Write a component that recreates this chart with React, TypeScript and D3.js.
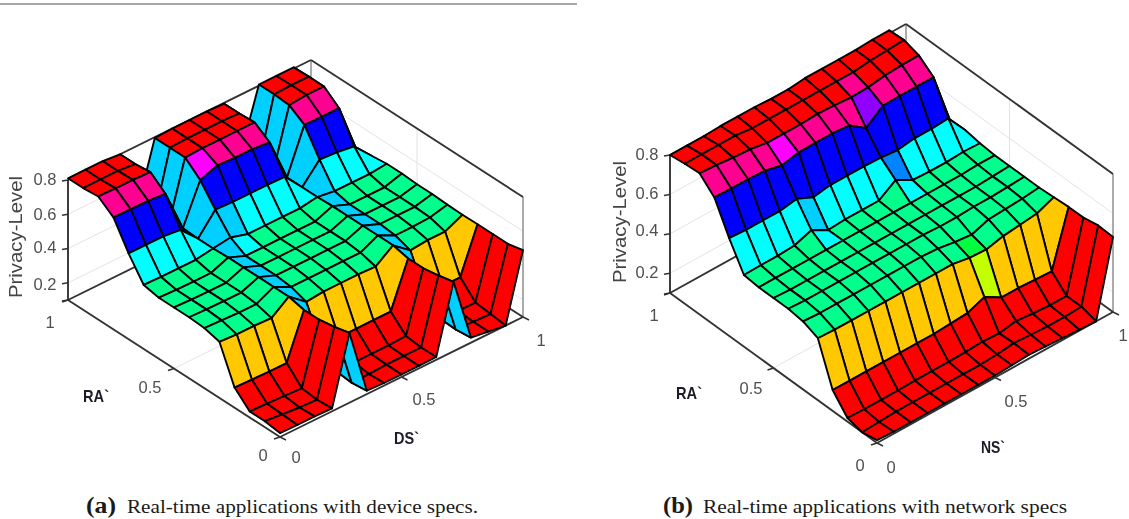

import React from "react";
import * as d3 from "d3";

const STEPS = 14;
const zTicks = [0.2, 0.4, 0.6, 0.8];
const zLabels = ["0.2", "0.4", "0.6", "0.8"];
const ridgeColumnsDevice = [4, 10];
const ridgeColumnsNetwork: number[] = [];

// Privacy-Level: one array per DS` column, running RA` 0 -> 1
const devA0 = [.123,.135,.135,.217,.427,.45,.456,.456,.456,.473,.60,.753,.818,.81,.81];
const devA1 = [.12,.125,.13,.213,.42,.445,.452,.452,.452,.47,.60,.75,.815,.81,.81];
const devA2 = [.12,.115,.125,.21,.42,.44,.45,.45,.45,.47,.60,.75,.815,.81,.81];
const devA3 = [.117,.11,.12,.21,.415,.44,.45,.45,.45,.47,.587,.74,.81,.80,.80];
const devR4 = [.507,.485,.47,.47,.49,.49,.49,.49,.49,.486,.486,.49,.43,.39,.44];
const devB5 = [.12,.11,.12,.21,.41,.44,.45,.45,.45,.50,.605,.72,.795,.795,.795];
const devB6 = [.115,.11,.12,.21,.42,.44,.45,.45,.45,.47,.60,.757,.80,.80,.80];
const devB7 = [.115,.115,.12,.21,.42,.44,.45,.45,.45,.47,.60,.75,.80,.80,.80];
const devB8 = [.115,.115,.12,.21,.42,.44,.45,.45,.45,.47,.60,.75,.80,.80,.80];
const devB9 = [.117,.115,.125,.21,.415,.44,.45,.45,.45,.47,.597,.74,.80,.795,.795];
const devR10 = [.505,.485,.47,.47,.49,.49,.49,.49,.49,.486,.486,.486,.43,.386,.474];
const devC11 = [.13,.12,.125,.21,.41,.44,.45,.45,.45,.47,.597,.743,.80,.807,.807];
const devC12 = [.115,.115,.12,.21,.42,.44,.45,.45,.45,.47,.59,.74,.81,.81,.807];
const devC13 = [.10,.11,.12,.21,.42,.445,.45,.45,.45,.47,.574,.74,.81,.81,.807];
const devR14 = [.49,.47,.47,.47,.468,.47,.475,.475,.48,.48,.47,.45,.44,.44,.44];
const deviceSurface = [devA0,devA1,devA2,devA3,devR4,devB5,devB6,devB7,devB8,devB9,devR10,devC11,devC12,devC13,devR14];

// Privacy-Level: one array per NS` column, running RA` 0 -> 1
const net0 = [.115,.10,.118,.206,.414,.445,.455,.455,.455,.463,.596,.748,.816,.81,.80];
const net1 = [.11,.105,.115,.205,.41,.44,.45,.45,.455,.465,.59,.745,.81,.81,.80];
const net2 = [.11,.11,.115,.205,.41,.44,.45,.45,.455,.465,.59,.745,.80,.81,.80];
const net3 = [.11,.11,.115,.205,.41,.44,.45,.45,.455,.47,.59,.74,.795,.81,.805];
const net4 = [.11,.11,.118,.205,.41,.44,.45,.45,.455,.50,.605,.72,.78,.80,.805];
const net5 = [.11,.11,.118,.205,.41,.44,.45,.45,.455,.454,.566,.738,.78,.80,.805];
const net6 = [.11,.11,.118,.205,.41,.44,.45,.45,.455,.46,.58,.74,.78,.80,.80];
const net7 = [.11,.11,.12,.21,.41,.44,.45,.45,.455,.46,.58,.74,.785,.80,.80];
const net8 = [.115,.115,.125,.216,.41,.435,.45,.45,.455,.46,.58,.733,.78,.80,.81];
const net9 = [.12,.125,.12,.25,.394,.42,.445,.45,.455,.517,.577,.672,.774,.80,.81];
const net10 = [.115,.12,.135,.20,.39,.41,.445,.45,.455,.47,.568,.738,.777,.80,.81];
const net11 = [.11,.115,.125,.20,.41,.44,.45,.45,.455,.465,.58,.74,.79,.81,.81];
const net12 = [.105,.115,.12,.195,.42,.445,.45,.45,.455,.465,.58,.74,.795,.815,.815];
const net13 = [.10,.12,.12,.19,.43,.45,.455,.455,.46,.47,.586,.74,.797,.82,.815];
const net14 = [.48,.485,.47,.47,.465,.46,.46,.46,.46,.467,.48,.47,.47,.47,.47];
const networkSurface = [net0,net1,net2,net3,net4,net5,net6,net7,net8,net9,net10,net11,net12,net13,net14];

// Single odd-coloured facets: column, row, colour name
const deviceAccents: [number, number, string][] = [[5, 11, "magenta"], [5, 9, "sky"]];
const networkAccents: [number, number, string][] = [
  [4, 11, "magenta"], [9, 11, "purple"], [4, 9, "sky"], [9, 9, "dodger"], [9, 3, "lime"], [9, 4, "green"],
];

const palette: Record<string, string> = {
  red: "#ff0000", orange: "#ffc800", lime: "#c4ff00", green: "#00ff40", spring: "#00ff8c",
  cyan: "#00ffff", sky: "#00d0ff", dodger: "#0084ff", blue: "#0000ff", purple: "#9000ff",
  magenta: "#ff00ff", pink: "#ff0090",
};
const levelScale = d3
  .scaleThreshold<number, string>()
  .domain([0.19, 0.34, 0.475, 0.60, 0.72, 0.788])
  .range([palette.red, palette.orange, palette.spring, palette.cyan, palette.blue, palette.pink, palette.red]);

type Label = { t: string; x: number; y: number };
type PanelProps = {
  z: number[][];
  ridges: number[];
  accents: [number, number, string][];
  left: [number, number];
  front: [number, number];
  right: [number, number];
  zPx: number;
  zLabelX: number;
  zLabelDy: number[];
  labels: Label[];
  axisTitle: { t: string; x: number; y: number; w: number };
  titleY: { x: number; y: number };
};

function Panel(p: PanelProps) {
  const raX = d3.scaleLinear().domain([0, 1]).range([p.front[0], p.left[0]]);
  const raY = d3.scaleLinear().domain([0, 1]).range([p.front[1], p.left[1]]);
  const dsX = d3.scaleLinear().domain([0, 1]).range([0, p.right[0] - p.front[0]]);
  const dsY = d3.scaleLinear().domain([0, 1]).range([0, p.right[1] - p.front[1]]);
  const zS = d3.scaleLinear().domain([0.1, 0.8]).range([0, p.zPx]);
  const project = (ds: number, ra: number, v: number): [number, number] => [
    raX(ra) + dsX(ds),
    raY(ra) + dsY(ds) - zS(v),
  ];
  const line = d3.line<[number, number]>();
  const seg = (a: [number, number], b: [number, number]) => line([a, b]) as string;
  const idx = d3.scaleLinear().domain([0, STEPS]).range([0, 1]);

  const cells: React.ReactNode[] = [];
  for (let i = STEPS - 1; i >= 0; i--) {
    for (let j = STEPS - 1; j >= 0; j--) {
      const pts: [number, number][] = [
        project(idx(i), idx(j), p.z[i][j]),
        project(idx(i + 1), idx(j), p.z[i + 1][j]),
        project(idx(i + 1), idx(j + 1), p.z[i + 1][j + 1]),
        project(idx(i), idx(j + 1), p.z[i][j + 1]),
      ];
      const accent = p.accents.find((a) => a[0] === i && a[1] === j);
      let fill = levelScale((p.z[i][j] + p.z[i][j + 1]) / 2);
      if (p.ridges.includes(i)) fill = palette.sky;
      if (accent) fill = palette[accent[2]];
      cells.push(
        <path key={`${i}-${j}`} d={(line(pts) as string) + "Z"} fill={fill} stroke="#000" strokeWidth={1.9} strokeLinejoin="round" />
      );
    }
  }

  const gridColor = "#e3e3e3";
  const axisColor = "#333";
  const grid: React.ReactNode[] = [];
  zTicks.forEach((v) => {
    if (v >= 0.8) return;
    grid.push(<path key={`gl${v}`} d={seg(project(0, 1, v), project(1, 1, v))} />);
    grid.push(<path key={`gr${v}`} d={seg(project(1, 1, v), project(1, 0, v))} />);
  });
  grid.push(<path key="v1" d={seg(project(0.5, 1, 0.1), project(0.5, 1, 0.8))} />);
  grid.push(<path key="v2" d={seg(project(1, 0.5, 0.1), project(1, 0.5, 0.8))} />);
  grid.push(<path key="f1" d={seg(project(0.5, 0, 0.1), project(0.5, 1, 0.1))} />);
  grid.push(<path key="f2" d={seg(project(0, 0.5, 0.1), project(1, 0.5, 0.1))} />);

  const box: [number, number, number, number, number, number][] = [
    [0, 1, 0.1, 0, 1, 0.8],
    [1, 1, 0.1, 1, 1, 0.8],
    [1, 0, 0.1, 1, 0, 0.8],
    [0, 1, 0.8, 1, 1, 0.8],
    [1, 1, 0.8, 1, 0, 0.8],
    [0, 1, 0.1, 1, 1, 0.1],
    [1, 1, 0.1, 1, 0, 0.1],
    [0, 1, 0.1, 0, 0, 0.1],
    [0, 0, 0.1, 1, 0, 0.1],
  ];
  const tickLen = 6;

  return (
    <g>
      <g fill="none" stroke={gridColor} strokeWidth={1}>{grid}</g>
      <g fill="none" stroke={axisColor} strokeWidth={1.5}>
        {box.map((b, k) => (
          <path key={k} strokeWidth={k === 1 || k === 2 ? 1.1 : 1.9} stroke={k === 1 || k === 2 ? "#666" : axisColor}
            d={seg(project(b[0], b[1], b[2]), project(b[3], b[4], b[5]))} />
        ))}
        {[0.1, ...zTicks].map((v) => {
          const q = project(0, 1, v);
          return <path key={`t${v}`} d={seg(q, [q[0] - tickLen, q[1] + 1])} />;
        })}
        {[0, 0.5, 1].map((v) => {
          const q = project(0, v, 0.1);
          return <path key={`r${v}`} d={seg(q, [q[0] - tickLen, q[1] + 2])} />;
        })}
        {[0, 0.5, 1].map((v) => {
          const q = project(v, 0, 0.1);
          return <path key={`d${v}`} d={seg(q, [q[0] + tickLen, q[1] + 3])} />;
        })}
      </g>
      {cells}
      <g fontFamily="'Liberation Sans', Arial, sans-serif" fill="#4f4f4f" fontSize={16.5} textAnchor="middle">
        {zTicks.map((v, k) => (
          <text key={v} x={p.zLabelX} y={project(0, 1, v)[1] + p.zLabelDy[k]}>{zLabels[k]}</text>
        ))}
        {p.labels.map((l) => (
          <text key={`${l.t}${l.x}`} x={l.x} y={l.y}>{l.t}</text>
        ))}
        <text
          transform={`translate(${p.titleY.x},${p.titleY.y}) rotate(-90)`}
          fontSize={18}
          fill="#444"
          textLength={122}
          lengthAdjust="spacingAndGlyphs"
        >
          Privacy-Level
        </text>
      </g>
      <g fontFamily="'Liberation Sans', Arial, sans-serif" fontWeight={700} fontSize={17} fill="#1c1c28">
        <text x={p.axisTitle.x} y={p.axisTitle.y} textLength={p.axisTitle.w} lengthAdjust="spacingAndGlyphs">{p.axisTitle.t}</text>
      </g>
    </g>
  );
}

const captionA = "Real-time applications with device specs.";
const captionB = "Real-time applications with network specs";

export default function App() {
  return (
    <svg
      width={1129}
      height={519}
      viewBox="0 0 1129 519"
      style={{ position: "absolute", left: 0, top: 0, display: "block", background: "#fff" }}
    >
      <defs>
        <filter id="soft" x="-2%" y="-2%" width="104%" height="104%">
          <feGaussianBlur stdDeviation="0.5" />
        </filter>
      </defs>
      <path d={d3.line()([[0, 4], [577, 4]]) as string} stroke="#8a8a8a" strokeWidth={1.4} fill="none" />
      <g filter="url(#soft)">
        <Panel
          z={deviceSurface}
          ridges={ridgeColumnsDevice}
          accents={deviceAccents}
          left={[68, 300]}
          front={[280, 437]}
          right={[523, 317]}
          zPx={120}
          zLabelX={45}
          zLabelDy={[7, 4, 6, 5]}
          labels={[
            { t: "1", x: 50, y: 328 },
            { t: "0.5", x: 150, y: 393 },
            { t: "0", x: 263, y: 461 },
            { t: "0", x: 296, y: 463 },
            { t: "0.5", x: 424, y: 405 },
            { t: "1", x: 541, y: 346 },
          ]}
          axisTitle={{ t: "DS`", x: 394, y: 444, w: 25 }}
          titleY={{ x: 22, y: 237 }}
        />
        <g fontFamily="'Liberation Sans', Arial, sans-serif" fontWeight={700} fontSize={17} fill="#1c1c28">
          <text x={83} y={402} textLength={26} lengthAdjust="spacingAndGlyphs">RA`</text>
        </g>
        <Panel
          z={networkSurface}
          ridges={ridgeColumnsNetwork}
          accents={networkAccents}
          left={[670, 293]}
          front={[877, 443]}
          right={[1113, 312]}
          zPx={138}
          zLabelX={647}
          zLabelDy={[5, 2, 5, 5]}
          labels={[
            { t: "1", x: 654, y: 321 },
            { t: "0.5", x: 751, y: 394 },
            { t: "0", x: 860, y: 471 },
            { t: "0", x: 891, y: 473 },
            { t: "0.5", x: 1016, y: 407 },
            { t: "1", x: 1123, y: 341 },
          ]}
          axisTitle={{ t: "NS`", x: 981, y: 453, w: 24 }}
          titleY={{ x: 626, y: 222 }}
        />
        <g fontFamily="'Liberation Sans', Arial, sans-serif" fontWeight={700} fontSize={17} fill="#1c1c28">
          <text x={676} y={399} textLength={26} lengthAdjust="spacingAndGlyphs">RA`</text>
        </g>
      </g>
      <g fontFamily="'Liberation Serif', serif" fill="#1a1a1a">
        <text x={86} y={513} fontSize={23} fontWeight={700} textLength={30} lengthAdjust="spacingAndGlyphs">(a)</text>
        <text x={127} y={513} fontSize={19.5} textLength={351} lengthAdjust="spacingAndGlyphs">{captionA}</text>
        <text x={663} y={513} fontSize={23} fontWeight={700} textLength={30} lengthAdjust="spacingAndGlyphs">(b)</text>
        <text x={703} y={513} fontSize={19.5} textLength={364} lengthAdjust="spacingAndGlyphs">{captionB}</text>
      </g>
    </svg>
  );
}
